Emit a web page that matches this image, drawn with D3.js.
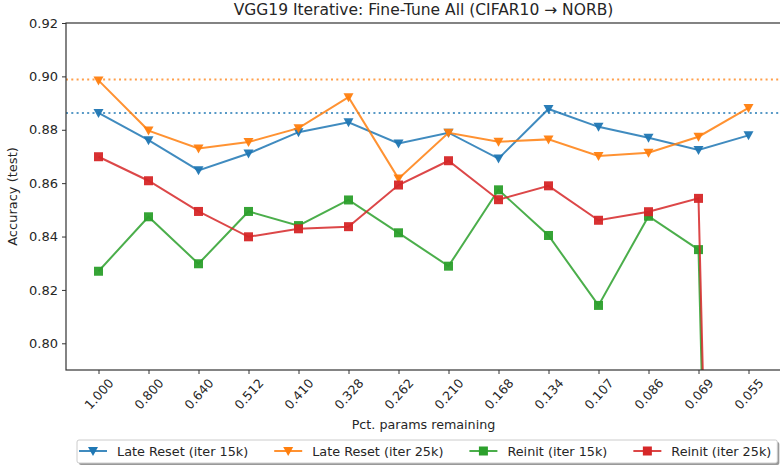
<!DOCTYPE html>
<html>
<head>
<meta charset="utf-8">
<script src="https://cdn.jsdelivr.net/npm/d3@7"></script>
<style>
  body { margin: 0; background: #fff; }
  svg text { font-family: "DejaVu Sans", sans-serif; fill: #262626; }
</style>
</head>
<body>
<svg id="chart" width="780" height="466"></svg>
<script>
// pruning levels (fraction of params left)
var pctLabels = ["1.000", "0.800", "0.640", "0.512", "0.410", "0.328", "0.262",
                 "0.210", "0.168", "0.134", "0.107", "0.086", "0.069", "0.055"];

var lateReset15k = [0.8863, 0.8761, 0.8648, 0.8711, 0.8791, 0.8828, 0.8749,
                    0.8789, 0.8692, 0.8878, 0.8811, 0.8770, 0.8724, 0.8779];
var lateReset25k = [0.8985, 0.8797, 0.8730, 0.8754, 0.8806, 0.8922, 0.8617,
                    0.8789, 0.8755, 0.8764, 0.8702, 0.8714, 0.8774, 0.8882];
var reinit15k = [0.8270, 0.8474, 0.8298, 0.8494, 0.8441, 0.8537, 0.8414,
                 0.8289, 0.8575, 0.8404, 0.8142, 0.8476, 0.8351, 0.10];
var reinit25k = [0.8699, 0.8609, 0.8494, 0.8399, 0.8429, 0.8437, 0.8593,
                 0.8684, 0.8538, 0.8590, 0.8461, 0.8493, 0.8543, 0.10];

// unpruned baselines (dotted)
var baseline15k = 0.8863;
var baseline25k = 0.8988;

var yTicks = [0.80, 0.82, 0.84, 0.86, 0.88, 0.90, 0.92];

var series = [
  { name: "Late Reset (iter 15k)", values: lateReset15k, color: "#1f77b4", marker: "tri" },
  { name: "Late Reset (iter 25k)", values: lateReset25k, color: "#ff7f0e", marker: "tri" },
  { name: "Reinit (iter 15k)", values: reinit15k, color: "#2ca02c", marker: "sq" },
  { name: "Reinit (iter 25k)", values: reinit25k, color: "#d62728", marker: "sq" }
];

var svg = d3.select("#chart");
var m = { left: 66, right: 781, top: 23, bottom: 370 };

var x = d3.scaleLinear().domain([-0.65, pctLabels.length - 1 + 0.65]).range([m.left, m.right]);
var y = d3.scaleLinear().domain([0.79, 0.92]).range([m.bottom, m.top]);

svg.append("defs").append("clipPath").attr("id", "plotclip")
  .append("rect").attr("x", m.left).attr("y", m.top)
  .attr("width", m.right - m.left).attr("height", m.bottom - m.top);

var plot = svg.append("g").attr("clip-path", "url(#plotclip)");

// baselines
[[baseline15k, "#1f77b4"], [baseline25k, "#ff7f0e"]].forEach(function(b) {
  plot.append("line")
    .attr("x1", m.left).attr("x2", m.right)
    .attr("y1", y(b[0])).attr("y2", y(b[0]))
    .attr("stroke", b[1]).attr("stroke-width", 2)
    .attr("stroke-dasharray", "2,3.3").attr("opacity", 0.75);
});

var line = d3.line()
  .x(function(d, i) { return x(i); })
  .y(function(d) { return y(d); });

function drawMarker(sel, kind, color, cx, cy) {
  if (kind === "tri") {
    sel.append("path")
      .attr("d", "M" + (cx - 5) + "," + (cy - 4) + "L" + (cx + 5) + "," + (cy - 4) + "L" + cx + "," + (cy + 5) + "Z")
      .attr("fill", color);
  } else {
    sel.append("rect")
      .attr("x", cx - 4.5).attr("y", cy - 4.5)
      .attr("width", 9).attr("height", 9)
      .attr("fill", color);
  }
}

series.forEach(function(s) {
  plot.append("path")
    .datum(s.values)
    .attr("d", line)
    .attr("fill", "none")
    .attr("stroke", s.color)
    .attr("stroke-width", 2)
    .attr("opacity", 0.85);
  var g = plot.append("g").attr("opacity", 0.95);
  s.values.forEach(function(v, i) {
    drawMarker(g, s.marker, s.color, x(i), y(v));
  });
});

// frame
svg.append("rect")
  .attr("x", m.left).attr("y", m.top)
  .attr("width", m.right - m.left).attr("height", m.bottom - m.top)
  .attr("fill", "none").attr("stroke", "#333").attr("stroke-width", 1.2);

// y axis
var yAxis = svg.append("g")
  .attr("transform", "translate(" + m.left + ",0)")
  .call(d3.axisLeft(y).tickValues(yTicks).tickFormat(d3.format(".2f")).tickSize(4).tickPadding(4));
yAxis.select(".domain").remove();
yAxis.selectAll("line").attr("stroke", "#333");
yAxis.selectAll("text").attr("font-size", 13).attr("font-family", "DejaVu Sans").attr("fill", "#262626");

// x axis
var xAxis = svg.append("g")
  .attr("transform", "translate(0," + m.bottom + ")")
  .call(d3.axisBottom(x).tickValues(d3.range(pctLabels.length))
    .tickFormat(function(i) { return pctLabels[i]; }).tickSize(4));
xAxis.select(".domain").remove();
xAxis.selectAll("line").attr("stroke", "#333");
xAxis.selectAll("text")
  .attr("font-size", 12.5).attr("font-family", "DejaVu Sans").attr("fill", "#262626")
  .attr("text-anchor", "middle").attr("dy", null)
  .attr("dominant-baseline", "central")
  .attr("y", 24)
  .attr("transform", "rotate(-48,0,24)");

// titles
svg.append("text")
  .attr("x", (m.left + m.right) / 2).attr("y", 15)
  .attr("text-anchor", "middle").attr("font-size", 15.5)
  .text("VGG19 Iterative: Fine-Tune All (CIFAR10 \u2192 NORB)");

svg.append("text")
  .attr("x", (m.left + m.right) / 2).attr("y", 429)
  .attr("text-anchor", "middle").attr("font-size", 12.7)
  .text("Pct. params remaining");

svg.append("text")
  .attr("transform", "translate(17," + ((m.top + m.bottom) / 2) + ") rotate(-90)")
  .attr("text-anchor", "middle").attr("font-size", 13)
  .text("Accuracy (test)");

// legend
var legend = svg.append("g");
var lgShadow = legend.append("rect").attr("fill", "#999").attr("rx", 2);
var lgBox = legend.append("rect").attr("fill", "#fff").attr("stroke", "#ccc").attr("rx", 2);
var lx = 79, ly = 451;
series.forEach(function(s) {
  var item = legend.append("g");
  item.append("line")
    .attr("x1", lx).attr("x2", lx + 28).attr("y1", ly).attr("y2", ly)
    .attr("stroke", s.color).attr("stroke-width", 2).attr("opacity", 0.85);
  drawMarker(item, s.marker, s.color, lx + 14, ly);
  var t = item.append("text")
    .attr("x", lx + 38).attr("y", ly)
    .attr("dominant-baseline", "central").attr("font-size", 12.8)
    .text(s.name);
  lx = lx + 38 + t.node().getComputedTextLength() + 26;
});
var boxX = 77, boxW = (lx - 26 + 6) - boxX;
lgShadow.attr("x", boxX + 2).attr("y", 442).attr("width", boxW).attr("height", 23);
lgBox.attr("x", boxX).attr("y", 440).attr("width", boxW).attr("height", 23);
</script>
</body>
</html>
